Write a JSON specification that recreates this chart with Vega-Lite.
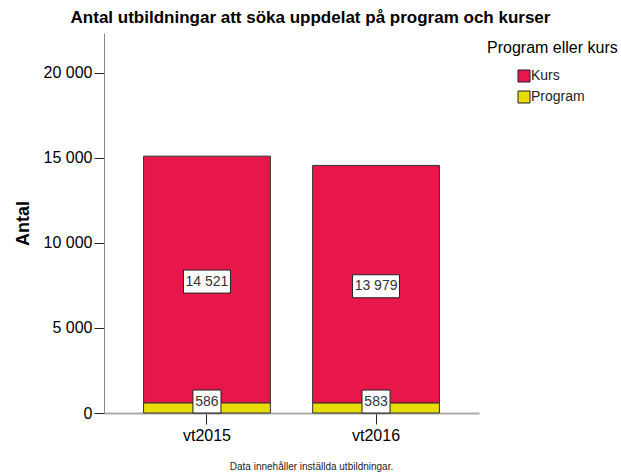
{
  "$schema": "https://vega.github.io/schema/vega-lite/v6.json",
  "width": 375,
  "height": 380,
  "autosize": "none",
  "padding": {"left": 104, "top": 33, "right": 142, "bottom": 63},
  "background": "white",
  "config": {
    "font": "Liberation Sans",
    "view": {"stroke": null},
    "locale": {"number": {"decimal": ",", "thousands": " ", "grouping": [3], "currency": ["", " kr"]}}
  },
  "title": {
    "text": "Antal utbildningar att söka uppdelat på program och kurser",
    "fontSize": 17,
    "fontWeight": "bold",
    "color": "#000000",
    "anchor": "middle",
    "dx": 19,
    "offset": 6
  },
  "data": {
    "values": [
      {"term": "vt2015", "kat": "Kurs", "antal": 14521},
      {"term": "vt2015", "kat": "Program", "antal": 586},
      {"term": "vt2016", "kat": "Kurs", "antal": 13979},
      {"term": "vt2016", "kat": "Program", "antal": 583}
    ]
  },
  "encoding": {
    "x": {
      "field": "term",
      "type": "nominal",
      "scale": {"paddingInner": 0.25, "paddingOuter": 0.234},
      "axis": {
        "labelAngle": 0,
        "labelFontSize": 16,
        "labelColor": "#000000",
        "labelPadding": 3,
        "tickSize": 11,
        "tickColor": "#222222",
        "domainColor": "#aaaaaa",
        "domainWidth": 2,
        "title": "Data innehåller inställda utbildningar.",
        "titleFontSize": 10,
        "titleFontWeight": "normal",
        "titleColor": "#222222",
        "titleX": 207,
        "titleY": 53,
        "titleBaseline": "middle",
        "titleAlign": "center"
      }
    }
  },
  "layer": [
    {
      "mark": {"type": "bar", "stroke": "#333333", "strokeWidth": 1},
      "encoding": {
        "y": {
          "field": "antal",
          "type": "quantitative",
          "stack": "zero",
          "scale": {"domain": [0, 22350], "nice": false},
          "axis": {
            "values": [0, 5000, 10000, 15000, 20000],
            "format": ",d",
            "grid": false,
            "labelFontSize": 16,
            "labelColor": "#000000",
            "labelPadding": 2,
            "tickSize": 10,
            "tickColor": "#222222",
            "domainColor": "#888888",
            "title": "Antal",
            "titleFontSize": 18,
            "titleFontWeight": "bold",
            "titleColor": "#000000",
            "titleX": -76,
            "titleBaseline": "alphabetic"
          }
        },
        "color": {
          "field": "kat",
          "type": "nominal",
          "scale": {"domain": ["Kurs", "Program"], "range": ["#E8174B", "#E8DC00"]},
          "legend": {
            "title": "Program eller kurs",
            "orient": "none",
            "legendX": 383,
            "legendY": 7,
            "titleFontSize": 16,
            "titleFontWeight": "normal",
            "titleColor": "#000000",
            "titlePadding": 13,
            "symbolType": "square",
            "symbolSize": 144,
            "symbolStrokeColor": "#222222",
            "symbolStrokeWidth": 1,
            "symbolOpacity": 1,
            "symbolOffset": 30,
            "labelFontSize": 14,
            "labelColor": "#222222",
            "labelOffset": 0,
            "rowPadding": 5
          }
        },
        "order": {"field": "kat", "sort": "descending"}
      }
    },
    {
      "mark": {
        "type": "point",
        "filled": true,
        "fill": "white",
        "stroke": "#222222",
        "strokeWidth": 1,
        "opacity": 1,
        "size": 529,
        "shape": {"expr": "datum.kat === 'Program' ? 'M-1.22,-1H1.22V1H-1.22Z' : 'M-2.04,-1H2.04V1H-2.04Z'"},
        "yOffset": {"expr": "datum.kat === 'Program' ? -6.5 : 2"}
      },
      "encoding": {
        "y": {"field": "antal", "type": "quantitative", "stack": "zero", "bandPosition": 0.5},
        "order": {"field": "kat", "sort": "descending"},
        "detail": {"field": "kat", "type": "nominal"}
      }
    },
    {
      "mark": {
        "type": "text",
        "fontSize": 14,
        "color": "#333333",
        "align": "center",
        "baseline": "middle",
        "yOffset": {"expr": "datum.kat === 'Program' ? -6.5 : 2"}
      },
      "encoding": {
        "y": {"field": "antal", "type": "quantitative", "stack": "zero", "bandPosition": 0.5},
        "order": {"field": "kat", "sort": "descending"},
        "detail": {"field": "kat", "type": "nominal"},
        "text": {"field": "antal", "type": "quantitative", "format": ",d"}
      }
    }
  ]
}
